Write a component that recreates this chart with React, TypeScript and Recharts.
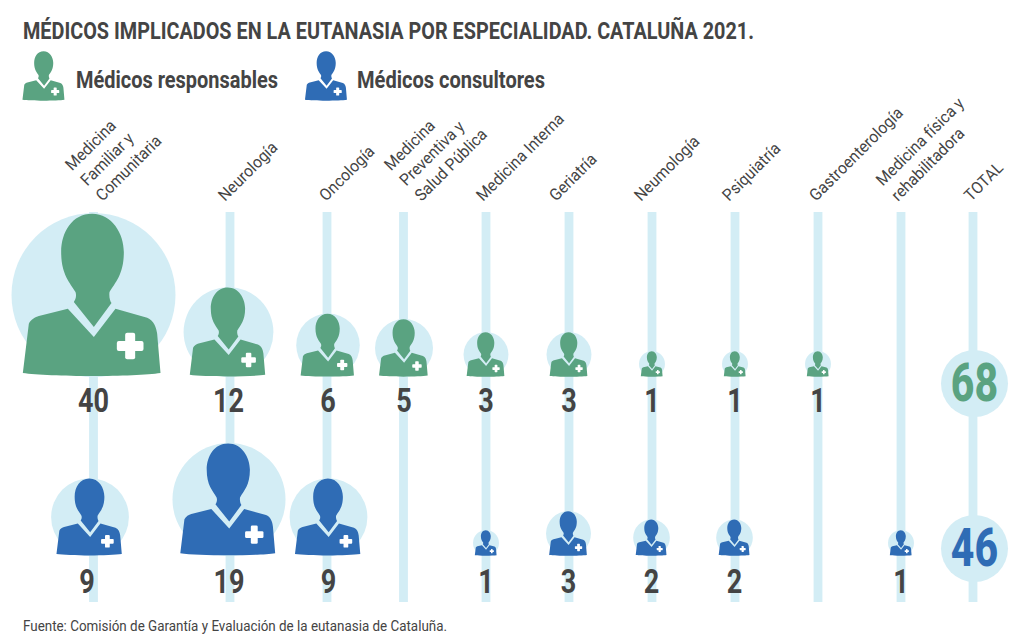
import {
  ReferenceArea,
  ReferenceLine,
  Scatter,
  ScatterChart,
  XAxis,
  YAxis,
  ZAxis,
} from "recharts";

const WIDTH = 1024;
const HEIGHT = 640;

const GREEN = "#5aa381";
const BLUE = "#2f6cb5";
const STRIP = "#d3edf5";
const TEXT = "#444444";

const SPECIALTIES = [
  ["Medicina", "Familiar y", "Comunitaria"],
  ["Neurología"],
  ["Oncología"],
  ["Medicina", "Preventiva y", "Salud Pública"],
  ["Medicina Interna"],
  ["Geriatría"],
  ["Neumología"],
  ["Psiquiatría"],
  ["Gastroenterología"],
  ["Medicina física y", "rehabilitadora"],
  ["TOTAL"],
];

const RESPONSABLES = [40, 12, 6, 5, 3, 3, 1, 1, 1, null];
const CONSULTORES = [9, 19, 9, null, 1, 3, 2, 2, null, 1];
const TOTAL_RESPONSABLES = 68;
const TOTAL_CONSULTORES = 46;

// layout of the columns, the picture is not evenly spaced
const STRIP_X = [93.5, 230, 327, 403.5, 486, 569, 652, 735, 818, 901, 973];
const RESPONSABLES_X = [93.5, 228.5, 328, 404, 486, 569, 652, 735, 818, 901];
const CONSULTORES_X = [90, 229, 328.5, 404, 486, 568.5, 651.5, 734.5, 818, 901];
const LABEL_SHIFT = [9, -5, -1, 18, -3, -13, -11, -6, -2, -3, -2];
const RESPONSABLES_Y = 377;
const CONSULTORES_Y = 556;

const responsablesData = RESPONSABLES.flatMap((z, i) =>
  z === null ? [] : [{ x: RESPONSABLES_X[i], y: RESPONSABLES_Y, z, i }],
);
const consultoresData = CONSULTORES.flatMap((z, i) =>
  z === null ? [] : [{ x: CONSULTORES_X[i], y: CONSULTORES_Y, z, i }],
);
const totalsData = [
  { x: 974.5, y: 383.5, total: TOTAL_RESPONSABLES, color: GREEN, baseline: 401 },
  { x: 974.5, y: 548.5, total: TOTAL_CONSULTORES, color: BLUE, baseline: 566 },
];

// drawn for a circle of radius 82, origin at the bottom centre, 3 units per px
const HEAD =
  "M0,-490 C60,-490 95,-430 95,-375 C95,-308 70,-285 52,-255 C50,-240 54,-228 58,-222 L5,-150 L-55,-225 C-50,-232 -46,-243 -50,-255 C-68,-285 -93,-308 -93,-375 C-93,-435 -60,-490 0,-490 Z";
const BODY =
  "M70,-205 L165,-178 C185,-170 192,-150 195,-130 L205,-12 C130,0 -130,0 -208,-12 L-190,-160 C-185,-172 -170,-180 -160,-183 L-73,-205 L5,-120 Z";

function Person({ x, y, r, color }: { x: number; y: number; r: number; color: string }) {
  const s = r / 82 / 3;
  return (
    <g transform={`translate(${x},${y}) scale(${s}) translate(-4,0)`}>
      <path d={HEAD} fill={color} />
      <path d={BODY} fill={color} />
      <rect x={74} y={-108} width={80} height={30} rx={6} fill="#fff" />
      <rect x={99} y={-133} width={30} height={80} rx={6} fill="#fff" />
    </g>
  );
}

function Bubble(props: any, color: string, numberY: number) {
  const { cx, cy, size, payload } = props;
  const r = Math.sqrt(size / Math.PI);
  return (
    <g>
      <circle cx={cx} cy={cy - r} r={r} fill={STRIP} />
      <Person x={cx} y={cy} r={r} color={color} />
      <text
        transform={`translate(${payload.i === 0 && color === BLUE ? cx - 3 : cx},${numberY}) scale(0.82,1)`}
        textAnchor="middle"
        fontFamily="Roboto"
        fontWeight={700}
        fontSize={33}
        fill={TEXT}
      >
        {payload.z}
      </text>
    </g>
  );
}

function TotalBubble(props: any) {
  const { cx, cy, payload } = props;
  return (
    <g>
      <circle cx={cx} cy={cy} r={33.5} fill={STRIP} />
      <text
        transform={`translate(${cx},${payload.baseline}) scale(0.76,1)`}
        textAnchor="middle"
        fontFamily="Roboto"
        fontWeight={800}
        fontSize={54}
        fill={payload.color}
      >
        {payload.total}
      </text>
    </g>
  );
}

function SpecialtyTick(props: any) {
  const { index } = props;
  const lines = SPECIALTIES[index];
  const x = STRIP_X[index] + LABEL_SHIFT[index];
  const y = 202;
  return (
    <g transform={`translate(${x},${y}) rotate(-45) scale(0.945,1)`}>
      {lines.map((line, i) => (
        <text
          key={line}
          x={0}
          y={(i - lines.length + 1) * 21.5}
          fontFamily="Roboto"
          fontSize={16.5}
          fill={TEXT}
        >
          {line}
        </text>
      ))}
    </g>
  );
}

export default function App() {
  return (
    <div style={{ position: "absolute", left: 0, top: 0, width: WIDTH, height: HEIGHT, background: "#fff" }}>
      <ScatterChart
        width={WIDTH}
        height={HEIGHT}
        margin={{ top: 0, right: 0, bottom: 0, left: 0 }}
      >
        <XAxis
          type="number"
          dataKey="x"
          domain={[0, WIDTH]}
          ticks={STRIP_X}
          interval={0}
          orientation="top"
          height={1}
          axisLine={false}
          tickLine={false}
          tick={SpecialtyTick}
        />
        <YAxis type="number" dataKey="y" domain={[1, HEIGHT]} reversed hide width={0} />
        <ZAxis type="number" dataKey="z" domain={[0, 40]} range={[0, Math.PI * 82 * 82]} scale="linear" />
        {STRIP_X.map((x) => (
          <ReferenceLine
            key={x}
            segment={[
              { x, y: 212 },
              { x, y: 602 },
            ]}
            stroke={STRIP}
            strokeWidth={8.8}
          />
        ))}
        <ReferenceArea y1={422} y2={440} fill="#fff" fillOpacity={0.25} stroke="none" />
        <Scatter
          name="Médicos responsables"
          data={responsablesData}
          isAnimationActive={false}
          shape={(p: any) => Bubble(p, GREEN, 412)}
        />
        <Scatter
          name="Médicos consultores"
          data={consultoresData}
          isAnimationActive={false}
          shape={(p: any) => Bubble(p, BLUE, 593)}
        />
        <Scatter
          name="Total"
          data={totalsData}
          isAnimationActive={false}
          shape={TotalBubble}
        />
      </ScatterChart>

      <svg
        width={WIDTH}
        height={HEIGHT}
        style={{ position: "absolute", left: 0, top: 0, pointerEvents: "none" }}
      >
        <text
          x={23}
          y={39}
          fontFamily="Roboto"
          fontWeight={700}
          fontSize={23}
          fill={TEXT}
          textLength={731}
          lengthAdjust="spacingAndGlyphs"
        >
          MÉDICOS IMPLICADOS EN LA EUTANASIA POR ESPECIALIDAD. CATALUÑA 2021.
        </text>
        <Person x={44} y={101} r={25} color={GREEN} />
        <text
          x={76}
          y={88}
          fontFamily="Roboto"
          fontWeight={700}
          fontSize={24.5}
          fill={TEXT}
          textLength={202}
          lengthAdjust="spacingAndGlyphs"
        >
          Médicos responsables
        </text>
        <Person x={326.5} y={101} r={25} color={BLUE} />
        <text
          x={357}
          y={88}
          fontFamily="Roboto"
          fontWeight={700}
          fontSize={24.5}
          fill={TEXT}
          textLength={188}
          lengthAdjust="spacingAndGlyphs"
        >
          Médicos consultores
        </text>
        <text
          x={23}
          y={631}
          fontFamily="Roboto"
          fontSize={15.5}
          fill={TEXT}
          textLength={424}
          lengthAdjust="spacingAndGlyphs"
        >
          Fuente: Comisión de Garantía y Evaluación de la eutanasia de Cataluña.
        </text>
      </svg>
    </div>
  );
}
